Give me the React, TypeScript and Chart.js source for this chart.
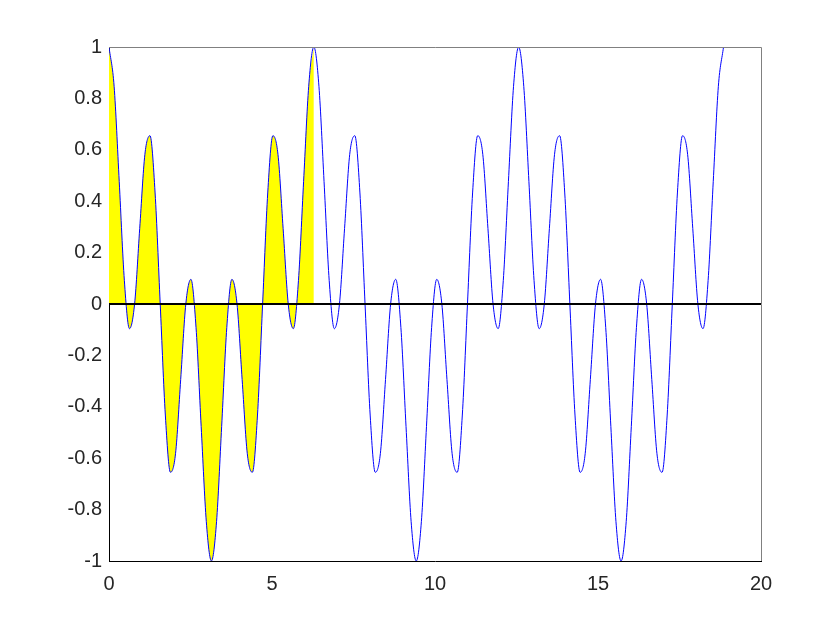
import React, { useEffect, useRef } from "react";
import { Chart, registerables } from "chart.js";

Chart.register(...registerables);

// Sample positions (x)
const xValues: number[] = [
  0, 0.157, 0.314, 0.471, 0.628, 0.785, 0.942, 1.1, 1.257, 1.414, 1.571, 1.728, 1.885, 2.042, 2.199, 2.356, 2.513, 2.67, 2.827, 2.985,
  3.142, 3.299, 3.456, 3.613, 3.77, 3.927, 4.084, 4.241, 4.398, 4.555, 4.712, 4.869, 5.027, 5.184, 5.341, 5.498, 5.655, 5.812, 5.969, 6.126,
  6.283, 6.44, 6.597, 6.754, 6.912, 7.069, 7.226, 7.383, 7.54, 7.697, 7.854, 8.011, 8.168, 8.325, 8.482, 8.639, 8.796, 8.954, 9.111, 9.268,
  9.425, 9.582, 9.739, 9.896, 10.053, 10.21, 10.367, 10.524, 10.681, 10.838, 10.996, 11.153, 11.31, 11.467, 11.624, 11.781, 11.938, 12.095, 12.252, 12.409,
  12.566, 12.723, 12.881, 13.038, 13.195, 13.352, 13.509, 13.666, 13.823, 13.98, 14.137, 14.294, 14.451, 14.608, 14.765, 14.923, 15.08, 15.237, 15.394, 15.551,
  15.708, 15.865, 16.022, 16.179, 16.336, 16.493, 16.65, 16.807, 16.965, 17.122, 17.279, 17.436, 17.593, 17.75, 17.907, 18.064, 18.221, 18.378, 18.535, 18.692,
  18.85,
];

// Curve values (y) read at those positions
const yValues: number[] = [
  1, 0.847, 0.476, 0.092, -0.096, 0, 0.294, 0.581, 0.655, 0.432, 0, -0.432, -0.655, -0.581, -0.294, 0, 0.096, -0.092, -0.476, -0.847,
  -1, -0.847, -0.476, -0.092, 0.096, 0, -0.294, -0.581, -0.655, -0.432, 0, 0.432, 0.655, 0.581, 0.294, 0, -0.096, 0.092, 0.476, 0.847,
  1, 0.847, 0.476, 0.092, -0.096, 0, 0.294, 0.581, 0.655, 0.432, 0, -0.432, -0.655, -0.581, -0.294, 0, 0.096, -0.092, -0.476, -0.847,
  -1, -0.847, -0.476, -0.092, 0.096, 0, -0.294, -0.581, -0.655, -0.432, 0, 0.432, 0.655, 0.581, 0.294, 0, -0.096, 0.092, 0.476, 0.847,
  1, 0.847, 0.476, 0.092, -0.096, 0, 0.294, 0.581, 0.655, 0.432, 0, -0.432, -0.655, -0.581, -0.294, 0, 0.096, -0.092, -0.476, -0.847,
  -1, -0.847, -0.476, -0.092, 0.096, 0, -0.294, -0.581, -0.655, -0.432, 0, 0.432, 0.655, 0.581, 0.294, 0, -0.096, 0.092, 0.476, 0.847,
  1,
];

// Shaded region covers the first period (0 .. 6.283)
const fillCount = 41;

// Horizontal reference line at y = 0
const zeroLineX: number[] = [0, 20];
const zeroLineY: number[] = [0, 0];

const xTicks = { min: 0, max: 20, step: 5 };
const yTicks = { min: -1, max: 1, step: 0.2 };

const boxPlugin = {
  id: "boxPlugin",
  afterDatasetsDraw(chart: any) {
    const { ctx, chartArea } = chart;
    ctx.save();
    ctx.strokeStyle = "#808080";
    ctx.lineWidth = 1;
    ctx.beginPath();
    ctx.moveTo(chartArea.left, Math.round(chartArea.top) + 0.5);
    ctx.lineTo(Math.round(chartArea.right) + 0.5, Math.round(chartArea.top) + 0.5);
    ctx.lineTo(Math.round(chartArea.right) + 0.5, chartArea.bottom);
    ctx.stroke();
    ctx.restore();
  },
};

export default function App() {
  const ref = useRef<HTMLCanvasElement | null>(null);

  useEffect(() => {
    if (!ref.current) return;
    const curve = xValues.map((x, i) => ({ x, y: yValues[i] }));
    const shaded = curve.slice(0, fillCount);
    const zero = zeroLineX.map((x, i) => ({ x, y: zeroLineY[i] }));
    const font = { family: "'Liberation Sans', Arial, sans-serif", size: 20 };

    const chart = new Chart(ref.current, {
      type: "line",
      data: {
        datasets: [
          {
            data: zero,
            borderColor: "#000000",
            borderWidth: 2,
            pointRadius: 0,
            fill: false,
            order: 0,
          },
          {
            data: curve,
            borderColor: "#0000ff",
            borderWidth: 1,
            pointRadius: 0,
            fill: false,
            cubicInterpolationMode: "monotone",
            order: 1,
          },
          {
            data: shaded,
            borderWidth: 0,
            borderColor: "rgba(0,0,0,0)",
            backgroundColor: "#ffff00",
            pointRadius: 0,
            fill: "origin",
            cubicInterpolationMode: "monotone",
            order: 2,
          },
        ],
      },
      options: {
        responsive: false,
        animation: false,
        events: [],
        layout: { padding: { left: 0, top: 47, right: 79, bottom: 0 } },
        plugins: { legend: { display: false }, tooltip: { enabled: false } },
        scales: {
          x: {
            type: "linear",
            min: xTicks.min,
            max: xTicks.max,
            grid: { display: false, drawTicks: false },
            border: { display: true, color: "#000000", width: 1 },
            ticks: {
              stepSize: xTicks.step,
              color: "#262626",
              font,
              padding: 11,
              maxRotation: 0,
            },
            afterFit: (s: any) => {
              s.height = 69;
            },
          },
          y: {
            type: "linear",
            min: yTicks.min,
            max: yTicks.max,
            grid: { display: false, drawTicks: false },
            border: { display: true, color: "#000000", width: 1 },
            ticks: {
              stepSize: yTicks.step,
              color: "#262626",
              font,
              padding: 7,
              callback: (v: any) => String(Number(Number(v).toFixed(1))),
            },
            afterFit: (s: any) => {
              s.width = 109;
            },
          },
        },
      },
      plugins: [boxPlugin],
    });
    return () => chart.destroy();
  }, []);

  return (
    <div style={{ position: "fixed", left: 0, top: 0, width: 840, height: 630, background: "#ffffff" }}>
      <canvas ref={ref} width={840} height={630} style={{ width: 840, height: 630, display: "block" }} />
    </div>
  );
}
